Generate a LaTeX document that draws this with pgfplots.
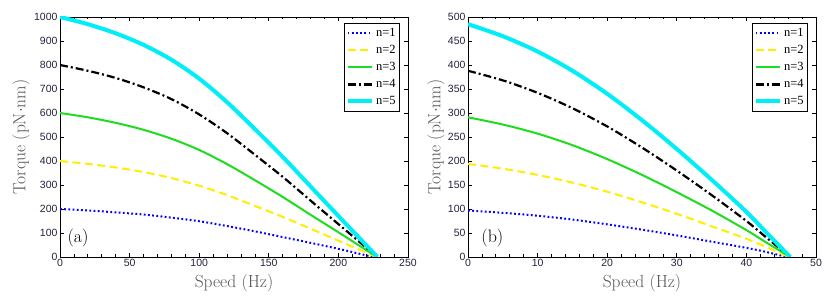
\documentclass[border=0pt]{standalone}
\usepackage{pgfplots}
\pgfplotsset{compat=1.18}
\usepackage{fontspec}
\newfontfamily\ticksf{Liberation Sans}
\newfontfamily\legf{Liberation Serif}
\definecolor{tickc}{RGB}{35,35,60}
\definecolor{labc}{RGB}{85,85,85}
\definecolor{myblue}{RGB}{0,0,255}
\definecolor{myyellow}{RGB}{255,238,0}
\definecolor{mygreen}{RGB}{30,220,30}
\definecolor{mycyan}{RGB}{0,238,245}

\pgfplotsset{
 mystyle/.style={
  scale only axis, width=348pt, height=240pt,
  axis line style={line width=0.9pt},
  tick align=inside, major tick length=4pt, minor tick length=2.5pt,
  every tick/.style={black, line width=0.7pt},
  ticklabel style={font=\ticksf\fontsize{10.5}{10.5}\selectfont, text=tickc},
  /pgf/number format/assume math mode=true,
  /pgf/number format/1000 sep={},
  xticklabel style={yshift=1pt},
  yticklabel style={xshift=1pt},
  xlabel style={font=\fontsize{17.5}{17.5}\selectfont, text=labc, at={(axis description cs:0.5,-0.108)}, anchor=center},
  ylabel style={font=\fontsize{17.5}{17.5}\selectfont, text=labc, anchor=center},
  xlabel={Speed (Hz)},
  ylabel={Torque (pN$\cdot$nm)},
  minor x tick num=4,
  xmin=0, ymin=0,
  no markers,
  legend style={at={(1,1)}, xshift=-8pt, yshift=-6pt, anchor=north east,
    font=\legf\fontsize{12.5}{12.5}\selectfont, draw=black, line width=0.9pt,
    inner sep=1.5pt, row sep=0pt,
    nodes={inner sep=2.5pt, text height=9.5pt, text depth=2.5pt}},
  legend cell align=left,
  legend image code/.code={\draw[#1] (0pt,0pt) -- (24pt,0pt);},
 },
 s1/.style={myblue, line width=2pt, dash pattern=on 1.8pt off 2.4pt},
 s2/.style={myyellow, line width=2pt, dash pattern=on 8pt off 4.5pt},
 s3/.style={mygreen, line width=2pt},
 s4/.style={black, line width=2.2pt, dash pattern=on 8pt off 3pt on 2pt off 3pt},
 s5/.style={mycyan, line width=4pt},
}

\begin{document}
\begin{tikzpicture}[x=1pt,y=1pt]
\useasboundingbox (0,0) rectangle (830,305);
\begin{axis}[mystyle, at={(60pt,48pt)}, anchor=south west,
  xmax=250, ymax=1000, xtick distance=50, ytick distance=100,
  ylabel style={at={(axis description cs:-0.112,0.5)}}]
\addplot[s1, smooth] coordinates {(0,200) (20,194) (40,186) (60,177) (80,164) (100,149) (120,129) (140,107) (160,83) (180,59) (200,34) (220,7) (225,0)};
\addplot[s2, smooth] coordinates {(0,400) (20,388) (40,373) (60,354) (80,329) (100,297) (120,258) (140,213) (160,167) (180,118) (200,68) (220,18) (227,0)};
\addplot[s3, smooth] coordinates {(0,600) (20,582) (40,559) (60,530) (80,493) (100,446) (120,387) (140,320) (160,250) (180,176) (200,103) (220,29) (228,0)};
\addplot[s4, smooth] coordinates {(0,800) (20,776) (40,746) (60,707) (80,658) (100,594) (120,516) (140,426) (160,334) (180,235) (200,137) (220,39) (228,0)};
\addplot[s5, smooth] coordinates {(0,1000) (20,970) (40,932) (60,884) (80,822) (100,743) (120,645) (140,533) (160,417) (180,294) (200,171) (220,49) (228,0)};
\legend{n=1,n=2,n=3,n=4,n=5}
\node[font=\fontsize{18}{18}\selectfont] at (axis description cs:0.052,0.08) {(a)};
\end{axis}
\begin{axis}[mystyle, at={(468pt,48pt)}, anchor=south west,
  xmax=50, ymax=500, xtick distance=10, ytick distance=50,
  ylabel style={at={(axis description cs:-0.092,0.5)}}]
\addplot[s1, smooth] coordinates {(0,97) (5,92) (10,86) (15,78) (20,68) (25,57) (30,45) (35,32) (40,19) (43,10) (45.8,0)};
\addplot[s2, smooth] coordinates {(0,194) (5,184) (10,171) (15,155) (20,136) (25,114) (30,90) (35,64) (40,38) (43,20) (46.1,0)};
\addplot[s3, smooth] coordinates {(0,291) (5,276) (10,257) (15,233) (20,204) (25,171) (30,135) (35,97) (40,56) (43,29) (46.3,0)};
\addplot[s4, smooth] coordinates {(0,388) (5,368) (10,342) (15,310) (20,272) (25,228) (30,180) (35,129) (40,75) (43,39) (46.3,0)};
\addplot[s5, smooth] coordinates {(0,485) (5,460) (10,428) (15,388) (20,340) (25,285) (30,225) (35,161) (40,94) (43,49) (46.3,0)};
\legend{n=1,n=2,n=3,n=4,n=5}
\node[font=\fontsize{18}{18}\selectfont] at (axis description cs:0.07,0.08) {(b)};
\end{axis}
\end{tikzpicture}
\end{document}
